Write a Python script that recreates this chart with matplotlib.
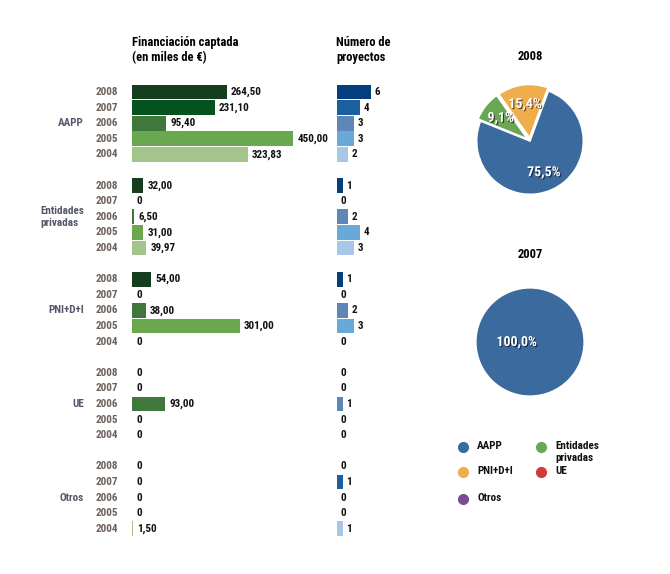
import matplotlib
matplotlib.use("Agg")
import matplotlib.pyplot as plt
import matplotlib.patheffects as pe
from matplotlib.transforms import blended_transform_factory

plt.rcParams["font.family"] = ["Roboto Condensed", "Liberation Sans Narrow", "DejaVu Sans"]
plt.rcParams["font.weight"] = "bold"

# ---------------------------------------------------------------------------
# Data
# ---------------------------------------------------------------------------
GROUPS = ["AAPP", "Entidades\nprivadas", "PNI+D+I", "UE", "Otros"]
YEARS = ["2008", "2007", "2006", "2005", "2004"]

FIN_AAPP = [264.50, 231.10, 95.40, 450.00, 323.83]
FIN_ENT = [32.00, 0, 6.50, 31.00, 39.97]
FIN_PNI = [54.00, 0, 38.00, 301.00, 0]
FIN_UE = [0, 0, 93.00, 0, 0]
FIN_OTROS = [0, 0, 0, 0, 1.50]

PROJ_AAPP = [6, 4, 3, 3, 2]
PROJ_ENT = [1, 0, 2, 4, 3]
PROJ_PNI = [1, 0, 2, 3, 0]
PROJ_UE = [0, 0, 1, 0, 0]
PROJ_OTROS = [0, 1, 0, 0, 1]

PIE_LABELS = ["AAPP", "Entidades\nprivadas", "PNI+D+I", "UE", "Otros"]
PIE_2008 = [75.5, 9.1, 15.4]      # AAPP, Entidades privadas, PNI+D+I
PIE_2007 = [100.0]                # AAPP

FIN = [FIN_AAPP, FIN_ENT, FIN_PNI, FIN_UE, FIN_OTROS]
PROJ = [PROJ_AAPP, PROJ_ENT, PROJ_PNI, PROJ_UE, PROJ_OTROS]

GREENS = ["#173d1f", "#04531f", "#3f783a", "#6aa84f", "#a3c48a"]
BLUES = ["#023f7c", "#1c5f9f", "#5f86b9", "#69a9da", "#a6c7e5"]
PIE_COLORS = ["#3b6a9e", "#6aa653", "#efad4c", "#d03a3a", "#7b4c95"]

YEAR_COLOR = "#6c615d"
GROUP_COLOR = "#55576a"

W, H = 670, 574
fig = plt.figure(figsize=(W / 100, H / 100), dpi=100)


def px_axes(x0, y0, x1, y1):
    """Axes from a pixel box (origin top-left)."""
    return fig.add_axes([x0 / W, 1 - y1 / H, (x1 - x0) / W, (y1 - y0) / H])


ROW = 15.6
TOP = 92
NROWS = 29
y_top = TOP - ROW / 2
y_bot = TOP + (NROWS - 1) * ROW + ROW / 2

ax_fin = px_axes(132, y_top, 132 + 500 * 0.358, y_bot)
ax_proj = px_axes(337, y_top, 337 + 8 * 5.67, y_bot)

for ax, xmax in ((ax_fin, 500), (ax_proj, 8)):
    ax.set_xlim(0, xmax)
    ax.set_ylim(NROWS - 0.5, -0.5)
    ax.axis("off")


def fmt_es(v):
    if v == 0:
        return "0"
    return f"{v:.2f}".replace(".", ",")


tr = blended_transform_factory(fig.transFigure, ax_fin.transData)
for g in range(len(GROUPS)):
    rows = [g * 6 + j for j in range(len(YEARS))]
    ax_fin.barh(rows, FIN[g], height=0.96, color=GREENS, linewidth=0)
    ax_proj.barh(rows, PROJ[g], height=0.96, color=BLUES, linewidth=0)
    for r, v in zip(rows, FIN[g]):
        ax_fin.annotate(fmt_es(v), (v, r), xytext=(3, 0), textcoords="offset points",
                        ha="left", va="center", fontsize=8, color="#111111")
    for r, v in zip(rows, PROJ[g]):
        ax_proj.annotate(str(v), (v, r), xytext=(2.5, 0), textcoords="offset points",
                         ha="left", va="center", fontsize=8, color="#111111")
    for r, yr in zip(rows, YEARS):
        fig.text(118 / W, r, yr, transform=tr, ha="right", va="center",
                 fontsize=8, color=YEAR_COLOR)
    fig.text(84 / W, rows[2], GROUPS[g], transform=tr, ha="right", va="center",
             ma="left", fontsize=8, color=GROUP_COLOR, linespacing=1.3)

# headers
fig.text(132 / W, 1 - 50 / H, "Financiación captada\n(en miles de €)",
         ha="left", va="center", fontsize=9, linespacing=1.15)
fig.text(336 / W, 1 - 50 / H, "Número de\nproyectos",
         ha="left", va="center", fontsize=9, linespacing=1.15)

# ---------------------------------------------------------------------------
# Pies
# ---------------------------------------------------------------------------
shadow = [pe.withSimplePatchShadow(offset=(0.8, -0.8), shadow_rgbFace="black", alpha=0.6)]
R = 58
LIM = 1.15


def pie_axes(cx, cy):
    ext = R * LIM
    ax = px_axes(cx - ext, cy - ext, cx + ext, cy + ext)
    ax.set_xlim(-LIM, LIM)
    ax.set_ylim(-LIM, LIM)
    ax.set_aspect("equal")
    ax.axis("off")
    return ax


def pct_es(p):
    return f"{p:.1f}%".replace(".", ",")


# drawing order counter-clockwise: AAPP, PNI+D+I, Entidades privadas
order = [0, 2, 1]
ax_p1 = pie_axes(530, 141)
wedges, texts, autot = ax_p1.pie(
    [PIE_2008[i] for i in order], colors=[PIE_COLORS[i] for i in order],
    startangle=158, counterclock=True, explode=[0, 0.06, 0.06],
    autopct=pct_es, pctdistance=0.64,
    wedgeprops=dict(edgecolor="white", linewidth=1.2),
    textprops=dict(color="white", fontsize=10))
for t in autot:
    t.set_path_effects(shadow)
fig.text(530 / W, 1 - 57 / H, "2008", ha="center", va="center", fontsize=9)

ax_p2 = pie_axes(530, 342)
wedges2, texts2, autot2 = ax_p2.pie(
    PIE_2007, colors=PIE_COLORS[:1], startangle=0, autopct=pct_es, pctdistance=0.25,
    wedgeprops=dict(edgecolor="white", linewidth=0),
    textprops=dict(color="white", fontsize=10))
for t in autot2:
    t.set_path_effects(shadow)
fig.text(530 / W, 1 - 255 / H, "2007", ha="center", va="center", fontsize=9)

# ---------------------------------------------------------------------------
# Legend (grid of coloured dots)
# ---------------------------------------------------------------------------
ax_leg = px_axes(0, 0, W, H)
ax_leg.set_xlim(0, W)
ax_leg.set_ylim(H, 0)
ax_leg.axis("off")
leg_pos = [(463, 447), (541, 447), (463, 472), (541, 472), (463, 499)]
for (lx, ly), lab, col in zip(leg_pos, PIE_LABELS, PIE_COLORS):
    ax_leg.plot(lx, ly, "o", ms=7, color=col)
    ax_leg.text(lx + 14, ly - 6, lab, ha="left", va="top", fontsize=8,
                color="#111111", linespacing=1.2)

fig.savefig("out.png", dpi=100)
